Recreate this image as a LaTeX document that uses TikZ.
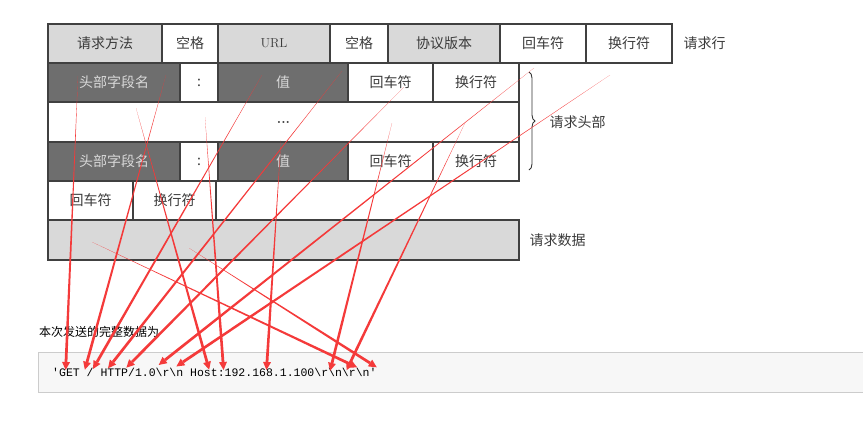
\documentclass[tikz,border=0pt]{standalone}
\usepackage{fontspec}
\newfontfamily\cjk{Noto Sans CJK SC}
\newfontfamily\mono{Liberation Mono}
\usetikzlibrary{calc,decorations.pathreplacing}
\definecolor{dk}{HTML}{6E6E6E}
\definecolor{lg}{HTML}{D9D9D9}
\definecolor{tx}{HTML}{3A3A3A}
\definecolor{ar}{HTML}{F43A3A}
\tikzset{
 cell/.style={draw=black!75,line width=1.2pt,font=\cjk\fontsize{14}{14}\selectfont,text=tx,inner sep=0pt},
 gcell/.style={cell,fill=lg},
 dcell/.style={cell,fill=dk,text=black!15},
 wcell/.style={cell,fill=white},
 lbl/.style={font=\cjk\fontsize{14}{14}\selectfont,text=tx,anchor=west},
}
\newcommand\mkcell[6]{\node[#1,minimum width=#4-#3,minimum height=#6-#5] (#2) at ({(#3+#4)/2},{(#5+#6)/2}) {};}
\newcommand\taper[2]{%
 \fill[ar] (#1) -- ($(#2)!1.4pt!90:(#1)$) -- ($(#2)!1.4pt!-90:(#1)$) -- cycle;
 \fill[ar] ($(#2)!-8pt!(#1)$) -- ($(#2)!-0pt!(#1)!4pt!90:(#1)$) -- ($(#2)!-0pt!(#1)!4pt!-90:(#1)$) -- cycle;}
\begin{document}
\begin{tikzpicture}[x=1pt,y=-1pt]
\useasboundingbox (0,0) rectangle (863,421);
% row 1
\node[gcell,minimum width=114,minimum height=39] (r1a) at (105,43.5) {请求方法};
\node[wcell,minimum width=56,minimum height=39] (r1b) at (190,43.5) {空格};
\node[gcell,minimum width=112,minimum height=39,font=\fontsize{13}{13}\selectfont] (r1c) at (274,43.5) {URL};
\node[wcell,minimum width=58,minimum height=39] (r1d) at (359,43.5) {空格};
\node[gcell,minimum width=112,minimum height=39] (r1e) at (444,43.5) {协议版本};
\node[wcell,minimum width=86,minimum height=39] (r1f) at (543,43.5) {回车符};
\node[wcell,minimum width=86,minimum height=39] (r1g) at (629,43.5) {换行符};
\node[lbl] (l1) at (680,43.5) {请求行};
% row 2
\node[dcell,minimum width=132,minimum height=39] (r2a) at (114,82.5) {头部字段名};
\node[wcell,minimum width=38,minimum height=39] (r2b) at (199,82.5) {:};
\node[dcell,minimum width=130,minimum height=39] (r2c) at (283,82.5) {值};
\node[wcell,minimum width=85,minimum height=39] (r2d) at (390.5,82.5) {回车符};
\node[wcell,minimum width=86,minimum height=39] (r2e) at (476,82.5) {换行符};
% row 3
\node[wcell,minimum width=471,minimum height=40] (r3) at (283.5,122) {\textbf{\rmfamily\fontsize{14}{14}\selectfont ...}};
% row 4
\node[dcell,minimum width=132,minimum height=39] (r4a) at (114,161.5) {头部字段名};
\node[wcell,minimum width=38,minimum height=39] (r4b) at (199,161.5) {:};
\node[dcell,minimum width=130,minimum height=39] (r4c) at (283,161.5) {值};
\node[wcell,minimum width=85,minimum height=39] (r4d) at (390.5,161.5) {回车符};
\node[wcell,minimum width=86,minimum height=39] (r4e) at (476,161.5) {换行符};
% row 5
\node[wcell,minimum width=85,minimum height=39] (r5a) at (90.5,200.5) {回车符};
\node[wcell,minimum width=83,minimum height=39] (r5b) at (174.5,200.5) {换行符};
% row 6
\node[gcell,minimum width=471,minimum height=40] (r6) at (283.5,240) {};
\node[lbl] (l6) at (526,240) {请求数据};
% brace
\draw[decorate,decoration={brace,amplitude=6pt},line width=0.9pt,black!80] (529,72) -- (529,170);
\node[lbl] (l2) at (546,122) {请求头部};
% bottom text
\node[anchor=west,font=\cjk\fontsize{12}{12}\selectfont,inner sep=0pt] (cap) at (39,332) {本次发送的完整数据为};
\node[draw=black!20,fill=black!3,minimum width=830,minimum height=40,inner sep=0pt,anchor=west] (box) at (38,372) {};
\node[anchor=west,inner sep=0pt,font=\mono\fontsize{11.5}{12}\selectfont] (code) at (52,372) {'GET / HTTP/1.0\textbackslash r\textbackslash n Host:192.168.1.100\textbackslash r\textbackslash n\textbackslash r\textbackslash n'};
% arrow ends
\foreach \n/\x/\y in {sA/78/76,sB/166/75,sC/262/75,sD/342/71,sE/404/87,sF/534/68,sG/610/75,sH/136/108,sI/205/117,sJ/281/140,sK/392/123,sL/465/123,sM/92/242,sN/189/248}
  \coordinate (\n) at (\x,\y);
\foreach \n/\x/\y in {tA/66/362,tB/87/362,tC/97/362,tD/113/362,tE/132/362,tF/165/360,tG/183/362,tH/207/362,tI/223/362,tJ/267/362,tK/332/363,tL/350/363,tM/350/364,tN/370/363}
  \coordinate (\n) at (\x,\y);
\taper{sA}{tA}\taper{sB}{tB}\taper{sC}{tC}\taper{sD}{tD}\taper{sE}{tE}
\taper{sF}{tF}\taper{sG}{tG}\taper{sH}{tH}\taper{sI}{tI}\taper{sJ}{tJ}
\taper{sK}{tK}\taper{sL}{tL}\taper{sM}{tM}\taper{sN}{tN}
\end{tikzpicture}
\end{document}
